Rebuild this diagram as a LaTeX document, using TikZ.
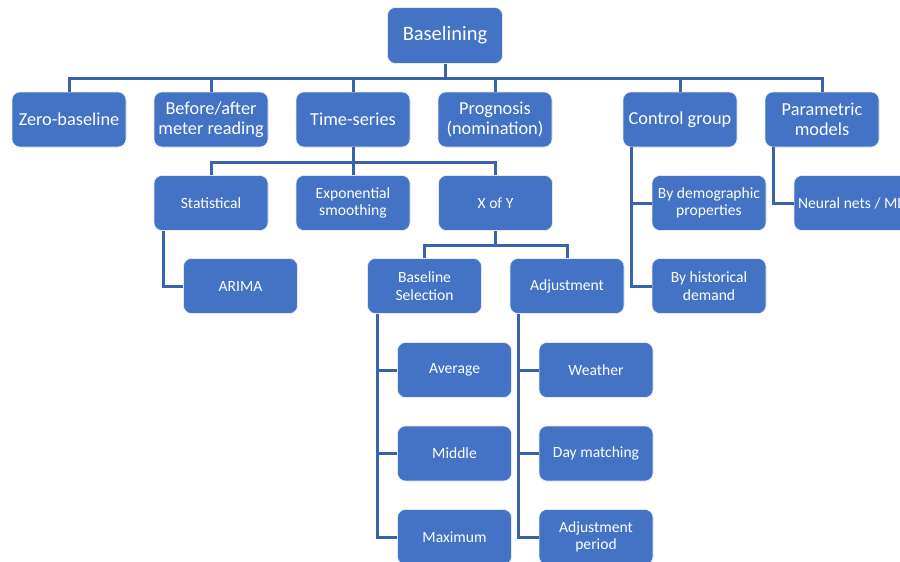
\documentclass[tikz,border=0pt]{standalone}
\usepackage{fontspec}
\setmainfont{Carlito}
\usetikzlibrary{calc}
\definecolor{boxblue}{HTML}{4472C4}
\definecolor{linkblue}{HTML}{3A63AE}
\tikzset{
  box/.style={draw=white!85!boxblue, line width=0.6pt, fill=boxblue, text=white, rounded corners=8pt,
    minimum width=114pt, minimum height=55pt, inner sep=1pt, align=center},
  topbox/.style={box, font=\fontsize{20.5}{22}\selectfont, minimum width=115pt, minimum height=56pt},
  lvlone/.style={box, font=\fontsize{18.3}{20}\selectfont},
  lvltwo/.style={box, font=\fontsize{15.6}{17.5}\selectfont},
  link/.style={draw=linkblue, line width=3pt}
}
\begin{document}
\begin{tikzpicture}[x=1pt,y=-1pt]
\clip (0,0) rectangle (900,562);
\fill[white] (0,0) rectangle (900,562);
% nodes
\node[topbox] (root) at (445,35.5) {Baselining};
\node[lvlone] (zero) at (69,119.5) {Zero-baseline};
\node[lvlone] (before) at (211,119.5) {Before/after\\meter reading};
\node[lvlone] (ts) at (353,119.5) {Time-series};
\node[lvlone] (prog) at (495,119.5) {Prognosis\\(nomination)};
\node[lvlone] (ctrl) at (680,119.5) {Control group};
\node[lvlone] (param) at (822,119.5) {Parametric\\models};
\node[lvltwo] (stat) at (211,203) {Statistical};
\node[lvltwo] (expo) at (353,203) {Exponential\\smoothing};
\node[lvltwo] (xofy) at (495.5,203) {X of Y};
\node[lvltwo] (demo) at (709,203) {By demographic\\properties};
\node[lvltwo] (neural) at (851,203) {Neural nets / ML};
\node[lvltwo] (arima) at (240.5,286) {ARIMA};
\node[lvltwo] (bsel) at (424.5,286) {Baseline\\Selection};
\node[lvltwo] (adj) at (567,286) {Adjustment};
\node[lvltwo] (hist) at (709,286) {By historical\\demand};
\node[lvltwo] (avg) at (454.5,370) {Average};
\node[lvltwo] (mid) at (454.5,453.5) {Middle};
\node[lvltwo] (max) at (454.5,537) {Maximum};
\node[lvltwo] (wea) at (596,370) {Weather};
\node[lvltwo] (day) at (596,453.5) {Day matching};
\node[lvltwo] (per) at (596,537) {Adjustment\\period};
% buses
\coordinate (bus1) at (445,78);
\coordinate (bus2) at (353,162);
\coordinate (bus3) at (495.5,245);
% level 1
\draw[link] (root.south) -- (bus1);
\draw[link] (zero.north) |- (bus1) -| (param.north);
\foreach \n in {before,ts,prog,ctrl} \draw[link] (\n.north) -- (\n.north |- bus1);
% time-series children
\draw[link] (ts.south) -- (bus2);
\draw[link] (stat.north) |- (bus2) -| (xofy.north);
\draw[link] (expo.north) -- (expo.north |- bus2);
% X of Y children
\draw[link] (xofy.south) -- (bus3);
\draw[link] (bsel.north) |- (bus3) -| (adj.north);
% side branches
\draw[link] ($(stat.south west)+(10,0)$) |- (arima.west);
\draw[link] ($(ctrl.south west)+(9,0)$) |- (hist.west);
\draw[link] ($(ctrl.south west)+(9,0)$) |- (demo.west);
\draw[link] ($(param.south west)+(9,0)$) |- (neural.west);
\draw[link] ($(bsel.south west)+(10,0)$) |- (max.west);
\draw[link] ($(bsel.south west)+(10,0)$) |- (mid.west);
\draw[link] ($(bsel.south west)+(10,0)$) |- (avg.west);
\draw[link] ($(adj.south west)+(9,0)$) |- (per.west);
\draw[link] ($(adj.south west)+(9,0)$) |- (day.west);
\draw[link] ($(adj.south west)+(9,0)$) |- (wea.west);
\end{tikzpicture}
\end{document}
